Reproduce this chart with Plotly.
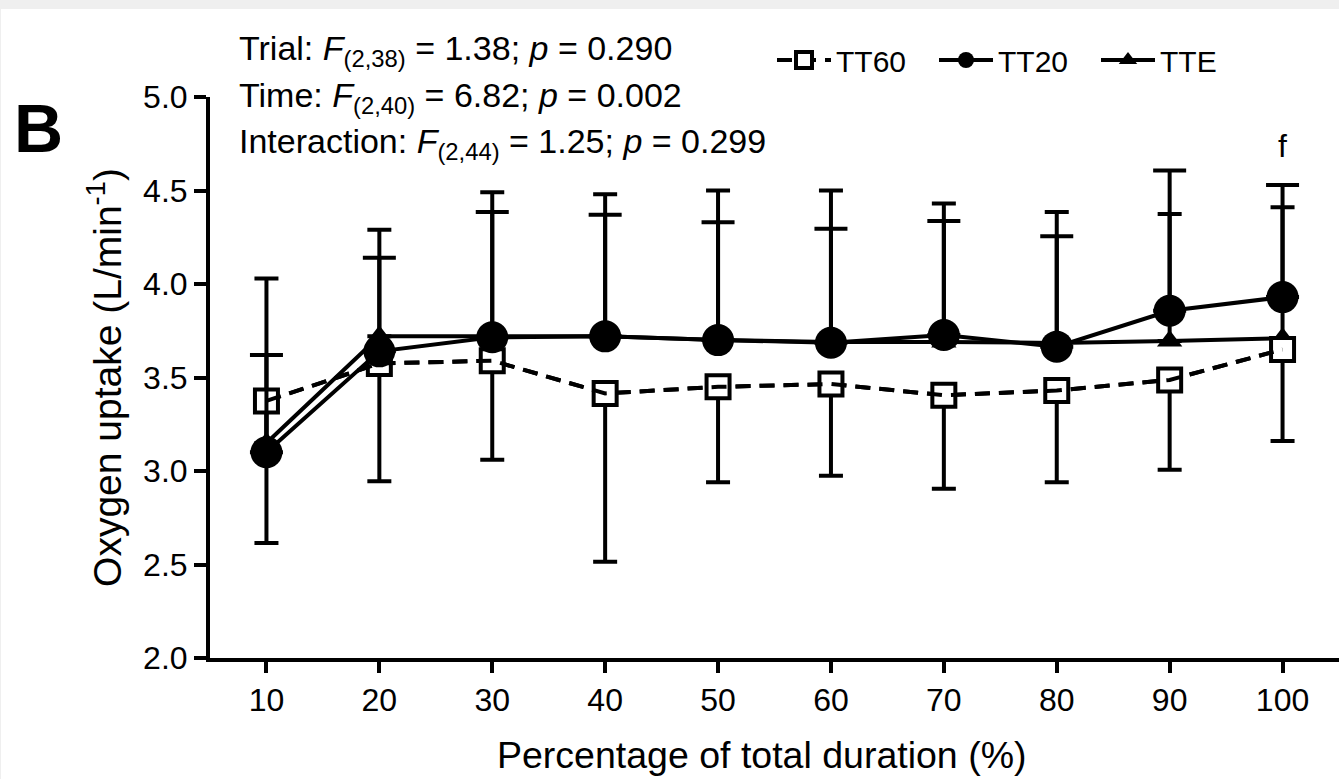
import plotly.graph_objects as go

# ---------------- data ----------------
x_pct = [10, 20, 30, 40, 50, 60, 70, 80, 90, 100]
x_ticks = [10, 20, 30, 40, 50, 60, 70, 80, 90, 100]
y_ticks = [2.0, 2.5, 3.0, 3.5, 4.0, 4.5, 5.0]
y_tick_labels = ["2.0", "2.5", "3.0", "3.5", "4.0", "4.5", "5.0"]

tt60_mean = [3.375, 3.575, 3.59, 3.415, 3.45, 3.465, 3.405, 3.43, 3.487, 3.65]
tt60_sd = [0.76, 0.63, 0.53, 0.90, 0.51, 0.49, 0.50, 0.49, 0.48, 0.49]   # drawn downward

tt20_mean = [3.10, 3.64, 3.715, 3.72, 3.70, 3.686, 3.727, 3.665, 3.857, 3.93]
tt20_sd = [0.52, 0.50, 0.67, 0.65, 0.63, 0.61, 0.61, 0.59, 0.75, 0.60]   # drawn upward

tte_mean = [3.15, 3.72, 3.72, 3.72, 3.70, 3.69, 3.69, 3.685, 3.695, 3.71]
tte_sd = [0.88, 0.57, 0.77, 0.76, 0.80, 0.81, 0.74, 0.70, 0.68, 0.70]    # drawn upward

stats_lines = [
    "Trial: <i>F</i><sub>(2,38)</sub> = 1.38; <i>p</i> = 0.290",
    "Time: <i>F</i><sub>(2,40)</sub> = 6.82; <i>p</i> = 0.002",
    "Interaction: <i>F</i><sub>(2,44)</sub> = 1.25; <i>p</i> = 0.299",
]
x_title = "Percentage of total duration (%)"
y_title = "Oxygen uptake (L/min<sup>-1</sup>)"
sig_label = "f"
sig_x = 100
sig_y = 4.74
panel_label = "B"

# ---------------- layout helpers (pixel -> paper) ----------------
W, H = 1339, 779
ML, MR, MT, MB = 210, 0, 97, 121
PW = W - ML - MR
PH = H - MT - MB


def pxx(p):
    return (p - ML) / PW


def pxy(p):
    return (H - MB - p) / PH


FONT = "Arial, Liberation Sans, Helvetica, sans-serif"
BLACK = "#000000"
LW = 4

fig = go.Figure()

# TTE (triangles, solid) - drawn first (underneath)
fig.add_trace(go.Scatter(
    x=x_pct, y=tte_mean, name="TTE", mode="lines+markers",
    line=dict(color=BLACK, width=LW),
    marker=dict(symbol="triangle-up", size=22, color=BLACK),
    error_y=dict(type="data", symmetric=False, array=tte_sd,
                 arrayminus=[0] * len(tte_sd), color=BLACK,
                 thickness=LW, width=12),
    legendrank=3,
))

# TT60 (open squares, dashed)
fig.add_trace(go.Scatter(
    x=x_pct, y=tt60_mean, name="TT60", mode="lines+markers",
    line=dict(color=BLACK, width=LW, dash="15px,9px"),
    marker=dict(symbol="square", size=23, color="white",
                line=dict(color=BLACK, width=LW)),
    error_y=dict(type="data", symmetric=False, array=[0] * len(tt60_sd),
                 arrayminus=tt60_sd, color=BLACK, thickness=LW, width=12),
    legendrank=1,
))
# dashed line also drawn over the square fill (as in the original)
fig.add_trace(go.Scatter(
    x=x_pct, y=tt60_mean, mode="lines", showlegend=False, hoverinfo="skip",
    line=dict(color=BLACK, width=LW, dash="15px,9px"),
))

# TT20 (filled circles, solid) - on top
fig.add_trace(go.Scatter(
    x=x_pct, y=tt20_mean, name="TT20", mode="lines+markers",
    line=dict(color=BLACK, width=LW),
    marker=dict(symbol="circle", size=32, color=BLACK),
    error_y=dict(type="data", symmetric=False, array=tt20_sd,
                 arrayminus=[0] * len(tt20_sd), color=BLACK,
                 thickness=LW, width=16.5),
    legendrank=2,
))

annotations = []
line_y = [50, 97, 143]
for txt, py in zip(stats_lines, line_y):
    annotations.append(dict(
        text=txt, xref="paper", yref="paper", x=pxx(237), y=pxy(py),
        xanchor="left", yanchor="middle", showarrow=False,
        font=dict(family=FONT, size=34, color=BLACK),
    ))
annotations.append(dict(
    text=sig_label, xref="x", yref="y", x=sig_x, y=sig_y,
    xanchor="center", yanchor="middle", showarrow=False,
    font=dict(family=FONT, size=32, color=BLACK),
))
annotations.append(dict(
    text="<b>" + panel_label + "</b>", xref="paper", yref="paper",
    x=pxx(38), y=pxy(128), xanchor="center", yanchor="middle",
    showarrow=False, font=dict(family=FONT, size=68, color=BLACK),
))
# x-axis title (slightly left of the plot-area centre, as in the original)
annotations.append(dict(
    text=x_title, xref="paper", yref="paper", x=pxx(761), y=pxy(755),
    xanchor="center", yanchor="middle", showarrow=False,
    font=dict(family=FONT, size=37.5, color=BLACK),
))

shapes = [
    # light grey frame strip at the very top/left of the page
    dict(type="rect", xref="paper", yref="paper", layer="below",
         x0=pxx(0), x1=pxx(W), y0=pxy(9), y1=pxy(0),
         fillcolor="#efefef", line=dict(width=0)),
    dict(type="rect", xref="paper", yref="paper", layer="below",
         x0=pxx(0), x1=pxx(1), y0=pxy(H), y1=pxy(0),
         fillcolor="#efefef", line=dict(width=0)),
]

fig.update_layout(
    width=W, height=H,
    margin=dict(l=ML, r=MR, t=MT, b=MB, pad=0),
    paper_bgcolor="white", plot_bgcolor="white",
    font=dict(family=FONT, size=32, color=BLACK),
    showlegend=True,
    legend=dict(orientation="h", x=pxx(772), xanchor="left",
                y=pxy(60), yanchor="middle",
                font=dict(family=FONT, size=30, color=BLACK),
                bgcolor="rgba(0,0,0,0)", itemwidth=54,
                entrywidth=93, entrywidthmode="pixels",
                traceorder="normal"),
    annotations=annotations,
    shapes=shapes,
    xaxis=dict(
        range=[5, 105], tickmode="array", tickvals=x_ticks,
        ticktext=[str(v) for v in x_ticks],
        showgrid=False, zeroline=False, showline=True,
        linecolor=BLACK, linewidth=LW,
        ticks="outside", ticklen=11, tickwidth=LW, tickcolor=BLACK,
        tickfont=dict(family=FONT, size=32, color=BLACK),
    ),
    yaxis=dict(
        range=[2.0, 5.0], tickmode="array", tickvals=y_ticks,
        ticktext=y_tick_labels,
        showgrid=False, zeroline=False, showline=True,
        linecolor=BLACK, linewidth=LW,
        ticks="outside", ticklen=12, tickwidth=LW, tickcolor=BLACK,
        tickfont=dict(family=FONT, size=32, color=BLACK),
        title=dict(text=y_title,
                   font=dict(family=FONT, size=39, color=BLACK), standoff=10),
    ),
)

fig.write_html("out.html")
